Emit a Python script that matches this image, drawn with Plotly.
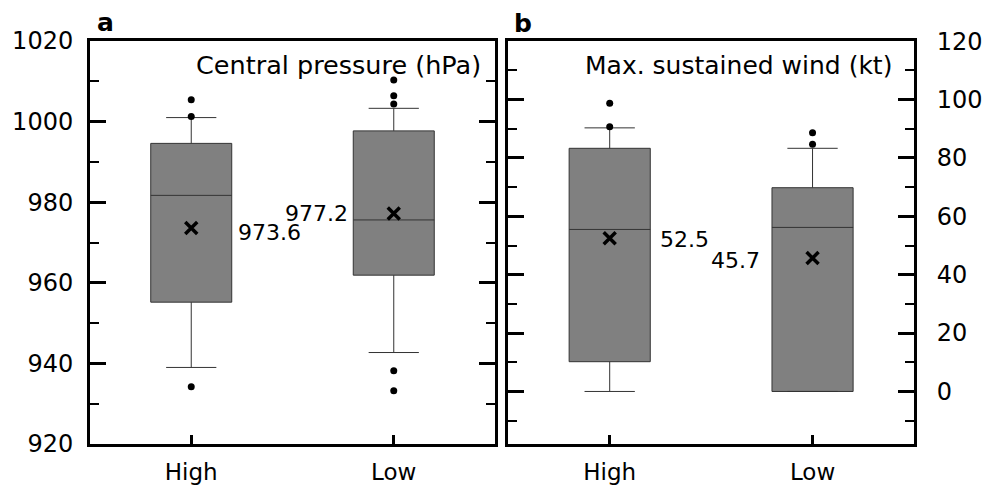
import plotly.graph_objects as go

# ---------------- data ----------------
categories = ["High", "Low"]
cat_pos = [0, 1]

# Panel a: Central pressure (hPa)
p_q1 = [955.2, 961.9]
p_median = [981.7, 975.6]
p_q3 = [994.6, 997.7]
p_lower = [939.0, 942.7]
p_upper = [1001.0, 1003.3]
p_mean = [973.6, 977.2]
p_outliers_high = [1005.4, 1001.3, 934.2]
p_outliers_low = [1010.3, 1006.4, 1004.4, 938.2, 933.2]

# Panel b: Max. sustained wind (kt)
w_q1 = [10.2, 0.0]
w_median = [55.5, 56.2]
w_q3 = [83.3, 69.8]
w_lower = [0.0, 0.0]
w_upper = [90.3, 83.3]
w_mean = [52.5, 45.7]
w_outliers_high = [98.7, 90.7]
w_outliers_low = [88.6, 84.7]

FONT = "DejaVu Sans"

fig = go.Figure()


def add_panel(xa, ya, q1, med, q3, lo, up, mean, out_hi, out_lo):
    fig.add_trace(go.Box(
        x=cat_pos, q1=q1, median=med, q3=q3, lowerfence=lo, upperfence=up,
        width=0.4, whiskerwidth=0.62, fillcolor="#808080",
        line=dict(color="#333333", width=1), boxpoints=False,
        xaxis=xa, yaxis=ya, hoverinfo="skip"))
    ox = [cat_pos[0]] * len(out_hi) + [cat_pos[1]] * len(out_lo)
    fig.add_trace(go.Scatter(
        x=ox, y=out_hi + out_lo, mode="markers",
        marker=dict(symbol="circle", size=7, color="black"),
        xaxis=xa, yaxis=ya))
    fig.add_trace(go.Scatter(
        x=cat_pos, y=mean, mode="markers",
        marker=dict(symbol="x-thin", size=12, line=dict(color="black", width=3.5)),
        xaxis=xa, yaxis=ya))


add_panel("x", "y", p_q1, p_median, p_q3, p_lower, p_upper, p_mean,
          p_outliers_high, p_outliers_low)
add_panel("x2", "y2", w_q1, w_median, w_q3, w_lower, w_upper, w_mean,
          w_outliers_high, w_outliers_low)

xcommon = dict(range=[-0.5, 1.5], tickvals=cat_pos, ticktext=categories,
               ticks="inside", ticklen=9, tickwidth=3, tickcolor="black",
               showline=True, linewidth=3, linecolor="black", mirror=True,
               showgrid=False, zeroline=False, automargin=False,
               tickfont=dict(family=FONT, size=23, color="black"),
               ticklabelstandoff=5)
ycommon = dict(dtick=20, ticks="inside", ticklen=16, tickwidth=3, tickcolor="black",
               showline=True, linewidth=3, linecolor="black", mirror="ticks",
               showgrid=False, zeroline=False, automargin=False,
               minor=dict(dtick=10, ticks="inside", ticklen=9, tickwidth=2,
                          tickcolor="black", showgrid=False),
               tickfont=dict(family=FONT, size=24, color="black"))

fig.update_layout(
    width=990, height=486, margin=dict(l=0, r=0, t=0, b=0, autoexpand=False),
    paper_bgcolor="white", plot_bgcolor="white", showlegend=False,
    font=dict(family=FONT, color="black"),
    xaxis=dict(domain=[0.0909, 0.5], anchor="y", **xcommon),
    xaxis2=dict(domain=[0.5134, 0.9232], anchor="y2", **xcommon),
    yaxis=dict(domain=[0.0864, 0.9156], anchor="x", range=[920, 1020],
               tick0=920, ticklabelstandoff=9, **ycommon),
    yaxis2=dict(domain=[0.0864, 0.9156], anchor="x2", range=[-18, 120.05],
                tick0=0, side="right", ticklabelstandoff=15, **ycommon),
)

ann = []
# mean value labels
ann.append(dict(x=cat_pos[0] + 0.22, y=p_mean[0] - 1.1, xref="x", yref="y",
                text=f"{p_mean[0]:.1f}", xanchor="left", yanchor="middle",
                showarrow=False, font=dict(family=FONT, size=22, color="black")))
ann.append(dict(x=cat_pos[1] - 0.215, y=p_mean[1], xref="x", yref="y",
                text=f"{p_mean[1]:.1f}", xanchor="right", yanchor="middle",
                showarrow=False, font=dict(family=FONT, size=22, color="black")))
ann.append(dict(x=cat_pos[0] + 0.238, y=w_mean[0] - 0.3, xref="x2", yref="y2",
                text=f"{w_mean[0]:.1f}", xanchor="left", yanchor="middle",
                showarrow=False, font=dict(family=FONT, size=22, color="black")))
ann.append(dict(x=cat_pos[1] - 0.251, y=w_mean[1] - 0.7, xref="x2", yref="y2",
                text=f"{w_mean[1]:.1f}", xanchor="right", yanchor="middle",
                showarrow=False, font=dict(family=FONT, size=22, color="black")))
# panel titles
ann.append(dict(x=0.4876, y=0.866, xref="paper", yref="paper",
                text="Central pressure (hPa)", xanchor="right", yanchor="middle",
                showarrow=False, font=dict(family=FONT, size=25.5, color="black")))
ann.append(dict(x=0.9034, y=0.866, xref="paper", yref="paper",
                text="Max. sustained wind (kt)", xanchor="right", yanchor="middle",
                showarrow=False, font=dict(family=FONT, size=25, color="black")))
# panel letters
ann.append(dict(x=0.107, y=0.953, xref="paper", yref="paper", text="<b>a</b>",
                xanchor="center", yanchor="middle", showarrow=False,
                font=dict(family=FONT, size=25, color="black")))
ann.append(dict(x=0.528, y=0.951, xref="paper", yref="paper", text="<b>b</b>",
                xanchor="center", yanchor="middle", showarrow=False,
                font=dict(family=FONT, size=25, color="black")))
fig.update_layout(annotations=ann)

fig.write_html("out.html")
